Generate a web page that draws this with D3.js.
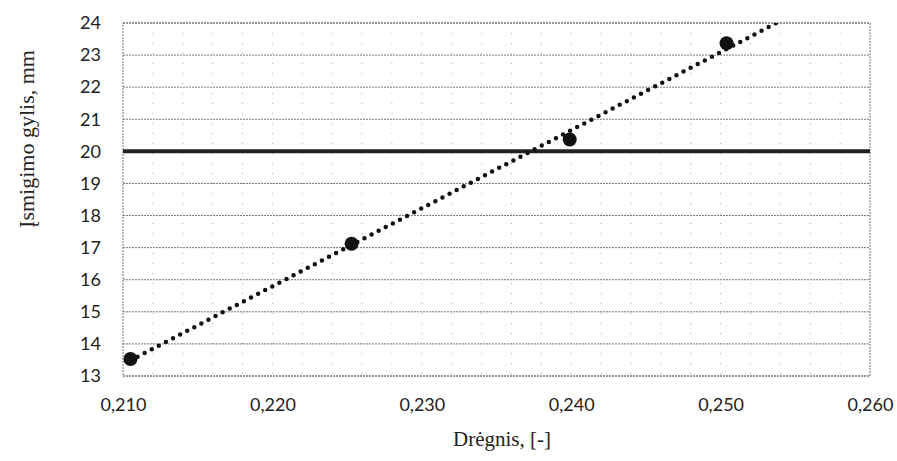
<!DOCTYPE html>
<html>
<head>
<meta charset="utf-8">
<script src="https://cdn.jsdelivr.net/npm/d3@7"></script>
<style>
  body { margin: 0; background: #fff; }
</style>
</head>
<body>
<div id="chart"></div>
<script>
// measured points
const dryness = [0.2105, 0.2253, 0.2399, 0.2504];
const depth = [13.53, 17.12, 20.37, 23.37];
const xTicks = [0.21, 0.22, 0.23, 0.24, 0.25, 0.26];
const yTicks = [13, 14, 15, 16, 17, 18, 19, 20, 21, 22, 23, 24];
const limitDepth = 20;
const trendEnd = 0.256;

const width = 897, height = 461;
const margin = { top: 23, right: 27, bottom: 85, left: 123 };
const w = width - margin.left - margin.right;
const h = height - margin.top - margin.bottom;
const serif = '"Liberation Serif", "DejaVu Serif", serif';

const svg = d3.select('#chart').append('svg')
  .attr('width', width)
  .attr('height', height);

const g = svg.append('g')
  .attr('transform', `translate(${margin.left},${margin.top})`);

const x = d3.scaleLinear().domain([0.21, 0.26]).range([0, w]);
const y = d3.scaleLinear().domain([13, 24]).range([h, 0]);

g.append('clipPath').attr('id', 'plot')
  .append('rect').attr('width', w).attr('height', h);

// minor vertical grid every 0.002
const minor = d3.range(0.212, 0.2599, 0.002);
g.selectAll('.vgrid')
  .data(minor)
  .enter()
  .append('line')
  .attr('class', 'vgrid')
  .attr('x1', (d) => x(d)).attr('x2', (d) => x(d))
  .attr('y1', 0).attr('y2', h)
  .style('stroke', '#aaa')
  .style('stroke-width', 1)
  .style('stroke-dasharray', '1 9');

// horizontal grid
g.selectAll('.hgrid')
  .data(yTicks)
  .enter()
  .append('line')
  .attr('class', 'hgrid')
  .attr('x1', 0).attr('x2', w)
  .attr('y1', (d) => y(d)).attr('y2', (d) => y(d))
  .style('stroke', '#777')
  .style('stroke-width', 1)
  .style('stroke-dasharray', '2 1');

// plot border
g.append('rect')
  .attr('width', w).attr('height', h)
  .style('fill', 'none')
  .style('stroke', '#777')
  .style('stroke-dasharray', '2 1');

// limit line
g.append('line')
  .attr('x1', 0).attr('x2', w)
  .attr('y1', y(limitDepth)).attr('y2', y(limitDepth))
  .style('stroke', '#222')
  .style('stroke-width', 4);

// linear trend
const mx = d3.mean(dryness), my = d3.mean(depth);
const slope = d3.sum(dryness, (d, i) => (d - mx) * (depth[i] - my)) /
  d3.sum(dryness, (d) => (d - mx) * (d - mx));
const icpt = my - slope * mx;
const trend = [dryness[0], trendEnd].map((v) => [v, icpt + slope * v]);

g.append('path')
  .datum(trend)
  .attr('clip-path', 'url(#plot)')
  .attr('d', d3.line().x((d) => x(d[0])).y((d) => y(d[1])))
  .style('fill', 'none')
  .style('stroke', '#111')
  .style('stroke-width', 4.5)
  .style('stroke-linecap', 'round')
  .style('stroke-dasharray', '0 8');

g.selectAll('.pt')
  .data(dryness)
  .enter()
  .append('circle')
  .attr('class', 'pt')
  .attr('cx', (d) => x(d))
  .attr('cy', (d, i) => y(depth[i]))
  .attr('r', 7)
  .style('fill', '#111');

// axes
const xAxis = g.append('g')
  .attr('transform', `translate(0,${h})`)
  .call(d3.axisBottom(x).tickValues(xTicks).tickSize(0).tickPadding(22)
    .tickFormat((d) => d3.format('.3f')(d).replace('.', ',')));
xAxis.select('.domain').remove();

const yAxis = g.append('g')
  .call(d3.axisLeft(y).tickValues(yTicks).tickSize(0).tickPadding(22)
    .tickFormat(d3.format('d')));
yAxis.select('.domain').remove();

g.selectAll('.tick text')
  .attr('font-family', 'Lato, "Open Sans", sans-serif')
  .attr('font-size', 18)
  .attr('fill', '#222');

svg.append('text')
  .attr('x', 502).attr('y', 446)
  .attr('text-anchor', 'middle')
  .attr('font-family', serif)
  .attr('font-size', 21)
  .attr('fill', '#222')
  .text('Drėgnis, [-]');

svg.append('text')
  .attr('transform', 'translate(34,139) rotate(-90)')
  .attr('text-anchor', 'middle')
  .attr('font-family', serif)
  .attr('font-size', 22)
  .attr('fill', '#222')
  .text('Įsmigimo gylis, mm');
</script>
</body>
</html>
